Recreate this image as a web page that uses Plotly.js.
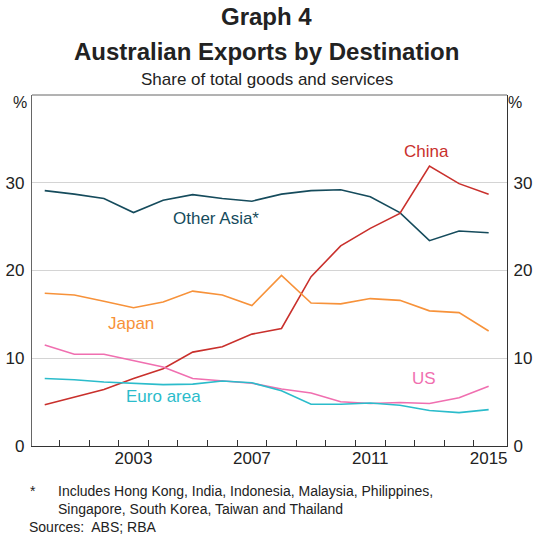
<!DOCTYPE html>
<html><head><meta charset="utf-8">
<script src="https://cdn.plot.ly/plotly-3.0.1.min.js"></script>
<style>html,body{margin:0;padding:0;background:#fff}#chart{width:533px;height:537px}</style>
</head><body><div id="chart"></div>
<script>
const years = [2000,2001,2002,2003,2004,2005,2006,2007,2008,2009,2010,2011,2012,2013,2014,2015];
const otherAsia = [29.1,28.7,28.2,26.6,28.0,28.65,28.2,27.9,28.7,29.1,29.2,28.4,26.6,23.4,24.5,24.3];
const china = [4.7,5.55,6.45,7.7,8.8,10.7,11.3,12.75,13.4,19.3,22.8,24.8,26.5,31.9,29.9,28.7];
const japan = [17.4,17.2,16.5,15.75,16.4,17.65,17.2,16.0,19.45,16.3,16.2,16.8,16.6,15.4,15.2,13.1];
const us = [11.5,10.45,10.45,9.7,9.0,7.7,7.45,7.15,6.5,6.05,5.05,4.85,4.95,4.85,5.5,6.8];
const euroArea = [7.7,7.55,7.3,7.15,7.0,7.05,7.4,7.2,6.3,4.75,4.75,4.9,4.65,4.05,3.8,4.15];
const yTicks = [0,10,20,30];
const xLabels = [2003,2007,2011,2015];
const xBoundaries = [2000.5,2001.5,2002.5,2003.5,2004.5,2005.5,2006.5,2007.5,2008.5,2009.5,2010.5,2011.5,2012.5,2013.5,2014.5];

const F = 'Liberation Sans, Arial, sans-serif';
const series = [
  {name:'Other Asia*', y: otherAsia, color:'#154b5c', lx:2005.8, ly:25.9},
  {name:'China', y: china, color:'#c9302c', lx:2012.9, ly:33.6},
  {name:'Japan', y: japan, color:'#f7923a', lx:2002.9, ly:14.0},
  {name:'US', y: us, color:'#f06fb0', lx:2012.8, ly:7.65},
  {name:'Euro area', y: euroArea, color:'#2bbccb', lx:2004.0, ly:5.6}
];
const traces = series.map(s => ({x: years, y: s.y, type:'scatter', mode:'lines', name:s.name,
  line:{color:s.color, width:1.6}, xaxis:'x', yaxis:'y', hoverinfo:'skip'}));
traces.push({x:[years[0]], y:[0], type:'scatter', mode:'none', xaxis:'x2', yaxis:'y2', showlegend:false, hoverinfo:'skip'});

const annotations = series.map(s => ({x:s.lx, y:s.ly, xref:'x', yref:'y', text:s.name, showarrow:false,
  font:{family:F, size:17, color:s.color}}));
const W=533, H=537, L=32, R=26, T=95, B=91;
const pixelAnn = [
  {xp:266.5, yp:17, text:'<b>Graph 4</b>', size:24},
  {xp:266.5, yp:52, text:'<b>Australian Exports by Destination</b>', size:24},
  {xp:266.5, yp:79, text:'Share of total goods and services', size:17},
  {xp:20, yp:102, text:'%', size:16},
  {xp:515, yp:102, text:'%', size:16}
];
pixelAnn.forEach(a => annotations.push({xref:'paper', yref:'paper',
  x:(a.xp-L)/(W-L-R), y:(H-B-a.yp)/(H-T-B), text:a.text, showarrow:false, xanchor:'center', yanchor:'middle',
  font:{family:F, size:a.size, color:'#222'}}));
annotations.push({xref:'paper', yref:'paper', x:(28-L)/(W-L-R), y:(H-B-491)/(H-T-B), xanchor:'left', yanchor:'middle', showarrow:false,
  text:'*', font:{family:F, size:14, color:'#222'}});
annotations.push({xref:'paper', yref:'paper', x:(56-L)/(W-L-R), y:(H-B-500)/(H-T-B), xanchor:'left', yanchor:'middle', showarrow:false, align:'left',
  text:'Includes Hong Kong, India, Indonesia, Malaysia, Philippines,<br>Singapore, South Korea, Taiwan and Thailand', font:{family:F, size:14, color:'#222'}});
annotations.push({xref:'paper', yref:'paper', x:(27-L)/(W-L-R), y:(H-B-527)/(H-T-B), xanchor:'left', yanchor:'middle', showarrow:false,
  text:'Sources:  ABS; RBA', font:{family:F, size:14, color:'#222'}});

const xr = [1999.57, 2015.62];
const layout = {
  width:W, height:H, margin:{l:L, r:R, t:T, b:B}, paper_bgcolor:'#fff', plot_bgcolor:'#fff',
  showlegend:false, font:{family:F, color:'#222'},
  xaxis:{range:xr, tickmode:'array', tickvals:xBoundaries, ticktext:xBoundaries.map(()=>''), ticks:'inside', ticklen:6,
    tickcolor:'#333', showgrid:false, zeroline:false, showline:true, linecolor:'#333', linewidth:1.2, mirror:false},
  xaxis2:{range:xr, overlaying:'x', anchor:'y', side:'bottom', tickmode:'array', tickvals:xLabels, ticktext:xLabels.map(String),
    ticks:'', showgrid:false, zeroline:false, showline:false, tickfont:{family:F, size:17, color:'#222'}},
  yaxis:{range:[0,40], tickmode:'array', tickvals:yTicks, ticks:'', showgrid:true, gridcolor:'#d4d4d4', gridwidth:1,
    zeroline:false, showline:true, linecolor:'#666', linewidth:1.2, tickfont:{family:F, size:17, color:'#222'}, ticklabelstandoff:3},
  yaxis2:{range:[0,40], overlaying:'y', anchor:'x', side:'right', tickmode:'array', tickvals:yTicks, ticks:'', showgrid:false,
    zeroline:false, showline:true, linecolor:'#333', linewidth:1.2, tickfont:{family:F, size:17, color:'#222'}, ticklabelstandoff:2},
  shapes:[{type:'line', xref:'paper', yref:'paper', x0:0, x1:1, y0:1, y1:1, line:{color:'#666', width:1}}],
  annotations: annotations
};
Plotly.newPlot('chart', traces, layout, {displayModeBar:false, staticPlot:true});
</script></body></html>
